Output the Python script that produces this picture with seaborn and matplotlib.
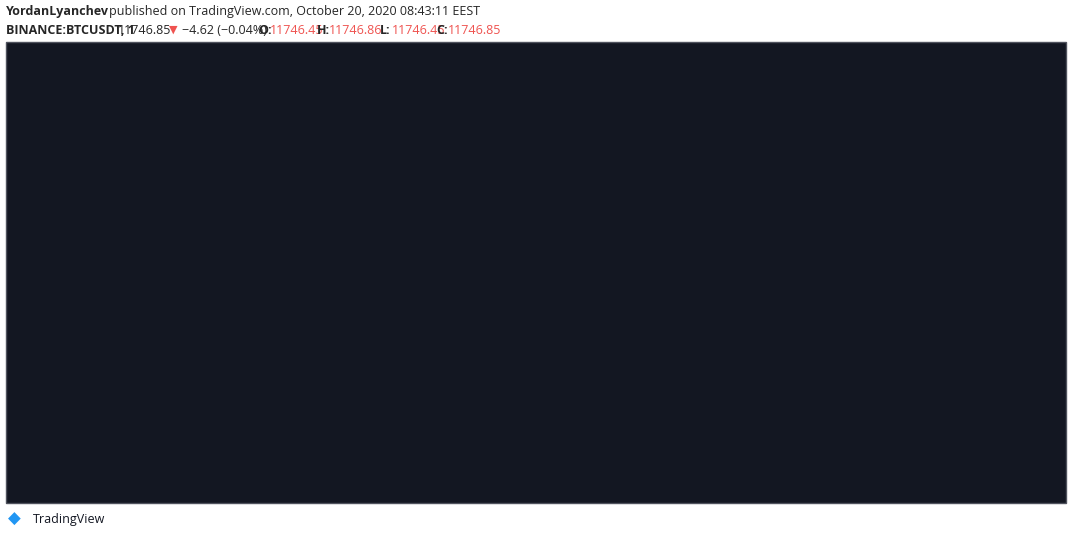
import numpy as np
import pandas as pd
import seaborn as sns
import matplotlib.pyplot as plt
from matplotlib.patches import Rectangle

# hours since Oct 19 00:00, price
hours = [0.17, 0.6, 1.1, 1.6, 1.9, 2.4, 2.7, 3.0, 3.17, 3.43, 3.93, 4.6, 5.27, 5.77, 6.1, 6.43, 6.77,
         7.0, 7.43, 7.93, 8.43, 8.67, 9.1, 9.6, 10.1, 10.6, 11.27, 11.93, 12.6, 13.1, 13.6, 14.1,
         14.6, 14.93, 15.27, 15.6, 15.93, 16.1, 16.27, 16.6, 16.93, 17.27, 17.6, 17.87, 18.1, 18.27,
         18.43, 18.6, 18.93, 19.27, 19.6, 19.93, 20.27, 20.6, 21.1, 21.43, 21.77, 22.27, 22.77,
         23.1, 23.43, 23.77, 24.27, 24.77, 25.27, 25.6, 25.93, 26.27, 26.67, 27.1, 27.6, 28.1,
         28.43, 28.77, 29.27, 29.6, 29.93, 30.27, 30.6, 30.93, 31.27, 31.6, 31.93, 32.27, 32.43]
price = [11448, 11456, 11458, 11462, 11470, 11478, 11490, 11523, 11490, 11473, 11470, 11467,
         11462, 11450, 11443, 11434, 11422, 11432, 11441, 11445, 11434, 11428, 11439, 11450,
         11458, 11462, 11467, 11466, 11473, 11484, 11478, 11481, 11495, 11490, 11518, 11523,
         11512, 11590, 11613, 11663, 11656, 11646, 11641, 11648, 11663, 11702, 11692, 11781,
         11803, 11775, 11764, 11766, 11747, 11736, 11730, 11747, 11686, 11674, 11680, 11674,
         11686, 11708, 11725, 11741, 11747, 11775, 11745, 11725, 11736, 11753, 11730, 11728,
         11708, 11697, 11705, 11714, 11727, 11719, 11736, 11753, 11741, 11745, 11725, 11738, 11747]
last_price = 11746.85
y_ticks = [11400, 11440, 11480, 11520, 11560, 11600, 11640, 11680, 11720, 11760, 11800, 11840]
x_ticks = [3, 6, 9, 12, 15, 18, 21, 24, 27, 30, 33]
x_labels = ['03:00', '06:00', '09:00', '12:00', '15:00', '18:00', '21:00', '20', '03:00', '06:00', '09:00']

bg = '#131722'
grid = '#4a4e5a'
blue = '#2196f3'
txt = '#b2b5be'

sns.set_style('dark')
plt.rcParams['font.family'] = ['Open Sans', 'DejaVu Sans']

W, H = 1073, 539
fig = plt.figure(figsize=(W / 100, H / 100), dpi=100, facecolor='white')
fig.patches.append(Rectangle((6 / W, 1 - 503 / H), 1060 / W, 461 / H, transform=fig.transFigure,
                             facecolor=bg, edgecolor='#50535e', lw=1, zorder=0))
ax = fig.add_axes([7 / W, 1 - 475 / H, 993 / W, 432 / H])
ax.set_facecolor(bg)

df = pd.DataFrame({'t': hours, 'p': price})
sns.lineplot(data=df, x='t', y='p', ax=ax, color=blue, lw=1.8)
ax.axhline(last_price, color=blue, ls=(0, (1, 2)), lw=1)

ax.set_xlim(0.17, 33.27)
ax.set_ylim(11372, 11856)
ax.set_xticks(x_ticks)
ax.set_xticklabels(x_labels)
ax.set_yticks(y_ticks)
ax.set_yticklabels([f'{v:.2f}' for v in y_ticks])
ax.yaxis.tick_right()
ax.grid(True, color=grid, lw=0.8)
ax.tick_params(colors=txt, labelsize=8.5, length=4, color=grid)
ax.tick_params(axis='x', pad=8)
ax.set_xlabel('')
ax.set_ylabel('')
for s in ax.spines.values():
    s.set_color(grid)

ax.text(0.008, 0.975, 'Bitcoin / TetherUS, 1, BINANCE', transform=ax.transAxes, color='#3c404b',
        fontsize=9, va='top', fontweight='bold')
ax.text(1.005, last_price, f'{last_price:.2f}', transform=ax.get_yaxis_transform(), color='white',
        fontsize=8.5, fontweight='bold', va='center',
        bbox=dict(boxstyle='square,pad=0.3', fc=blue, ec='none'))
ax.text(1.03, 11723, '00:51', transform=ax.get_yaxis_transform(), color='white',
        fontsize=8.5, fontweight='bold', va='center',
        bbox=dict(boxstyle='square,pad=0.3', fc=blue, ec='none'))

fig.text(6 / W, 1 - 12 / H, 'YordanLyanchev', fontsize=9, fontweight='bold', va='center')
fig.text(109 / W, 1 - 12 / H, 'published on TradingView.com, October 20, 2020 08:43:11 EEST',
         fontsize=9, va='center')
y2 = 1 - 30 / H
fig.text(6 / W, y2, 'BINANCE:BTCUSDT, 1', fontsize=9, fontweight='bold', va='center')
fig.text(118 / W, y2, '11746.85', fontsize=9, va='center')
fig.text(169 / W, y2, '▼', fontsize=8, va='center', color='#ef5350')
fig.text(182 / W, y2, '−4.62 (−0.04%)', fontsize=9, va='center')
parts = [(258, 'O:', '11746.45'), (317, 'H:', '11746.86'), (380, 'L:', '11746.45'), (436, 'C:', '11746.85')]
for x0, k, v in parts:
    fig.text(x0 / W, y2, k, fontsize=9, fontweight='bold', va='center')
    fig.text((x0 + 12) / W, y2, v, fontsize=9, va='center', color='#ef5350')
fig.text(33 / W, 1 - 520 / H, 'TradingView', fontsize=9, va='center', color='#131722')
fig.text(8 / W, 1 - 520 / H, '◆', fontsize=12, va='center', color=blue)

fig.savefig('out.png', dpi=100, facecolor='white')
